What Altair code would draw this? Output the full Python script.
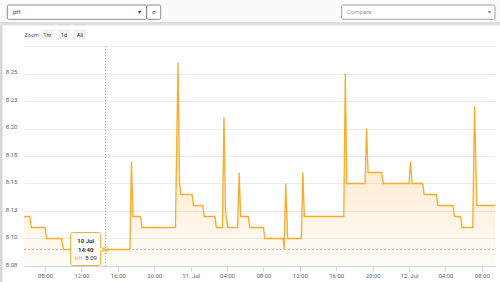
import altair as alt
import pandas as pd

# ---- data ----
TIMES = [
    "2023-07-10 05:42", "2023-07-10 06:20", "2023-07-10 06:30", "2023-07-10 08:00",
    "2023-07-10 08:10", "2023-07-10 09:50", "2023-07-10 10:00", "2023-07-10 17:20",
    "2023-07-10 17:30", "2023-07-10 17:40", "2023-07-10 18:30", "2023-07-10 18:40",
    "2023-07-10 22:20", "2023-07-10 22:37", "2023-07-10 22:47", "2023-07-10 22:57",
    "2023-07-11 00:10", "2023-07-11 00:20", "2023-07-11 01:20", "2023-07-11 01:30",
    "2023-07-11 02:40", "2023-07-11 02:50", "2023-07-11 03:30", "2023-07-11 03:40",
    "2023-07-11 03:50", "2023-07-11 04:05", "2023-07-11 05:10", "2023-07-11 05:20",
    "2023-07-11 05:30", "2023-07-11 06:20", "2023-07-11 06:30", "2023-07-11 08:00",
    "2023-07-11 08:10", "2023-07-11 10:10", "2023-07-11 10:17", "2023-07-11 10:27",
    "2023-07-11 10:40", "2023-07-11 12:10", "2023-07-11 12:20", "2023-07-11 12:30",
    "2023-07-11 16:50", "2023-07-11 17:00", "2023-07-11 17:10", "2023-07-11 19:10",
    "2023-07-11 19:20", "2023-07-11 19:30", "2023-07-11 21:00", "2023-07-11 21:10",
    "2023-07-12 00:00", "2023-07-12 00:10", "2023-07-12 00:20", "2023-07-12 01:30",
    "2023-07-12 01:40", "2023-07-12 03:00", "2023-07-12 03:10", "2023-07-12 04:50",
    "2023-07-12 05:00", "2023-07-12 05:40", "2023-07-12 05:50", "2023-07-12 07:00",
    "2023-07-12 07:12", "2023-07-12 07:27", "2023-07-12 09:27",
]
PH = [
    8.12, 8.12, 8.11, 8.11,
    8.10, 8.10, 8.09, 8.09,
    8.17, 8.12, 8.12, 8.11,
    8.11, 8.26, 8.15, 8.14,
    8.14, 8.13, 8.13, 8.12,
    8.12, 8.11, 8.11, 8.21,
    8.125, 8.11, 8.11, 8.16,
    8.12, 8.12, 8.11, 8.11,
    8.10, 8.10, 8.09, 8.15,
    8.10, 8.10, 8.16, 8.12,
    8.12, 8.25, 8.15, 8.15,
    8.20, 8.16, 8.16, 8.15,
    8.15, 8.17, 8.15, 8.15,
    8.14, 8.14, 8.13, 8.13,
    8.12, 8.12, 8.11, 8.11,
    8.22, 8.13, 8.13,
]
X_DOMAIN = ["2023-07-10 05:41:30", "2023-07-12 09:27"]
X_TICKS = ["2023-07-10 08:00", "2023-07-10 12:00", "2023-07-10 16:00", "2023-07-10 20:00",
           "2023-07-11 00:00", "2023-07-11 04:00", "2023-07-11 08:00", "2023-07-11 12:00",
           "2023-07-11 16:00", "2023-07-11 20:00", "2023-07-12 00:00", "2023-07-12 04:00",
           "2023-07-12 08:00"]
X_TICK_LABELS = ["08:00", "12:00", "16:00", "20:00", "11. Jul", "04:00", "08:00", "12:00",
                 "16:00", "20:00", "12. Jul", "04:00", "08:00"]
Y_TICKS = [8.075, 8.1, 8.125, 8.15, 8.175, 8.2, 8.225, 8.25, 8.275]
Y_TICK_LABELS = ["8.08", "8.10", "8.13", "8.15", "8.18", "8.20", "8.23", "8.25", ""]
HOVER_TIME = "2023-07-10 14:40"
HOVER_VALUE = 8.09
HOVER_DATE_LABEL = "10 Jul"
HOVER_TIME_LABEL = "14:40"
SERIES_NAME = "pH"

ORANGE = "#FBAA2B"
FONT = "Roboto"


def ms(s):
    return int(pd.Timestamp(s, tz="UTC").value // 10**6)


def lookup_expr(keys, labels, key_expr, tol):
    expr = "''"
    for k, l in reversed(list(zip(keys, labels))):
        expr = f"abs({key_expr} - {k}) < {tol} ? '{l}' : ({expr})"
    return expr


df = pd.DataFrame({"t": [ms(s) for s in TIMES], "v": PH})
hover_df = pd.DataFrame({"t": [ms(HOVER_TIME)], "v": [HOVER_VALUE]})
one_row = pd.DataFrame({"k": [0]})

x_scale = alt.Scale(type="utc", domain=[ms(X_DOMAIN[0]), ms(X_DOMAIN[1])])
y_scale = alt.Scale(domain=[Y_TICKS[0], Y_TICKS[-1]], nice=False, zero=False)

x_axis = alt.Axis(
    values=[ms(s) for s in X_TICKS], tickCount=100,
    labelExpr=lookup_expr([ms(s) for s in X_TICKS], X_TICK_LABELS, "time(datum.value)", 1000),
    title=None, grid=False, domainColor="#ccd6eb", tickColor="#ccd6eb", tickSize=5,
    labelFontSize=6, labelColor="#666666", labelFont=FONT, labelPadding=1, labelFlush=False,
    labelOverlap=False,
)
y_axis = alt.Axis(
    values=Y_TICKS, tickCount=100,
    labelExpr=lookup_expr(Y_TICKS, Y_TICK_LABELS, "datum.value", 1e-6),
    title=None, grid=True, gridColor="#ececec", domain=False, ticks=False,
    labelFontSize=6, labelColor="#666666", labelFont=FONT, labelPadding=7, labelOffset=-2,
    labelOverlap=False,
)

X = alt.X("t:T", scale=x_scale, axis=x_axis)
Y = alt.Y("v:Q", scale=y_scale, axis=y_axis)
Xp = alt.X("t:T")
Yp = alt.Y("v:Q")

grad = alt.Gradient(
    gradient="linear",
    stops=[alt.GradientStop(color="rgba(253,170,45,0.42)", offset=0),
           alt.GradientStop(color="rgba(253,170,45,0.03)", offset=1)],
    x1=0, x2=0, y1=0, y2=1,
)

base = alt.Chart(df)
area = base.mark_area(color=grad, clip=True).encode(x=X, y=Y, y2=alt.datum(Y_TICKS[0]))
line = base.mark_line(color=ORANGE, strokeWidth=1.3, clip=True).encode(x=Xp, y=Yp)

hb = alt.Chart(hover_df)
vrule = hb.mark_rule(color="#999999", strokeDash=[1, 2], strokeWidth=1).encode(
    x=Xp, y=alt.value(0), y2=alt.value(220))
hrule = hb.mark_rule(color="#aaaaaa", strokeDash=[2, 2], strokeWidth=0.8).encode(
    y=Yp, x=alt.value(0), x2=alt.value(471))
halo = hb.mark_point(filled=True, color=ORANGE, opacity=0.3, size=55).encode(x=Xp, y=Yp)

box = hb.mark_rect(
    fill="white", fillOpacity=0.95, stroke=ORANGE, strokeWidth=1, cornerRadius=2,
    xOffset=-35, x2Offset=-5, yOffset=-17, y2Offset=16,
).encode(x=Xp, x2="t:T", y=Yp, y2="v:Q")
arrow = hb.mark_point(
    shape="triangle-right", filled=True, fill="white", stroke=ORANGE, strokeWidth=1,
    size=18, xOffset=-3, opacity=1).encode(x=Xp, y=Yp)
arrow_cover = hb.mark_point(
    shape="triangle-right", filled=True, fill="white", size=10, xOffset=-4.3, strokeWidth=0,
    opacity=1).encode(x=Xp, y=Yp)

tt_date = hb.mark_text(fontSize=6, fontWeight="bold", color="#333333", font=FONT,
                       dx=-20, dy=-8.5).encode(x=Xp, y=Yp, text=alt.value(HOVER_DATE_LABEL))
tt_time = hb.mark_text(fontSize=6, fontWeight="bold", color="#333333", font=FONT,
                       dx=-20, dy=0).encode(x=Xp, y=Yp, text=alt.value(HOVER_TIME_LABEL))
tt_name = hb.mark_text(fontSize=6, color=ORANGE, font=FONT, align="right",
                       dx=-23, dy=8.5).encode(x=Xp, y=Yp, text=alt.value(SERIES_NAME))
tt_val = hb.mark_text(fontSize=6, color="#333333", font=FONT, align="left",
                      dx=-20.5, dy=8.5).encode(x=Xp, y=Yp, text=alt.value(f"{HOVER_VALUE:.2f}"))


# ---- page chrome (outside plot area) ----
def rect(x, x2, y, y2, **kw):
    return alt.Chart(one_row).mark_rect(**kw).encode(
        x=alt.value(x), x2=alt.value(x2), y=alt.value(y), y2=alt.value(y2))


def label(x, y, text, **kw):
    return alt.Chart(one_row).mark_text(font=FONT, baseline="middle", **kw).encode(
        x=alt.value(x), y=alt.value(y), text=alt.value(text))


chrome = [
    rect(-24, 476, -46, -24, fill="#fbfbfb"),
    rect(-24, 476, -24, -20.5, fill="#dedede"),
    rect(-24, -21.5, -20.5, 236, fill="#d6d6d6"),
    rect(-16.7, 122.7, -41, -26.7, fill="white", stroke="#6f6f6f", strokeWidth=0.8, cornerRadius=1.5),
    rect(122.7, 136.7, -41, -26.7, fill="white", stroke="#6f6f6f", strokeWidth=0.8, cornerRadius=1.5),
    rect(317.7, 471, -41, -26.7, fill="white", stroke="#8a8a8a", strokeWidth=0.8, cornerRadius=1.5),
    label(-11, -34, "pH", fontSize=6, color="#444444", align="left"),
    label(115, -34, "▾", fontSize=6, color="#333333", align="center"),
    label(129.7, -34, "σ", fontSize=6, color="#444444", align="center"),
    label(323, -34, "Compare", fontSize=6, color="#9a9a9a", align="left"),
    label(465, -34, "▾", fontSize=6, color="#888888", align="center"),
    label(0.5, -11, "Zoom", fontSize=5.5, color="#666666", align="left"),
    rect(16.7, 30, -16, -6.5, fill="#f4f4f4"),
    rect(33.3, 46.7, -16, -6.5, fill="#f4f4f4"),
    rect(49.3, 62.7, -16, -6.5, fill="#f4f4f4"),
    label(23.3, -11, "1hr", fontSize=5.5, color="#333333", align="center"),
    label(40, -11, "1d", fontSize=5.5, color="#333333", align="center"),
    label(56, -11, "All", fontSize=5.5, color="#333333", align="center"),
]

chart = alt.layer(
    area, *chrome, hrule, vrule, line, halo, box, arrow, arrow_cover,
    tt_date, tt_time, tt_name, tt_val,
).properties(
    width=471, height=220,
    autosize=alt.AutoSizeParams(type="none"),
    padding={"left": 24, "top": 46, "right": 5, "bottom": 16},
    background="white",
).configure_view(stroke=None)

chart.save("out.html", embed_options={"renderer": "svg", "actions": False})
